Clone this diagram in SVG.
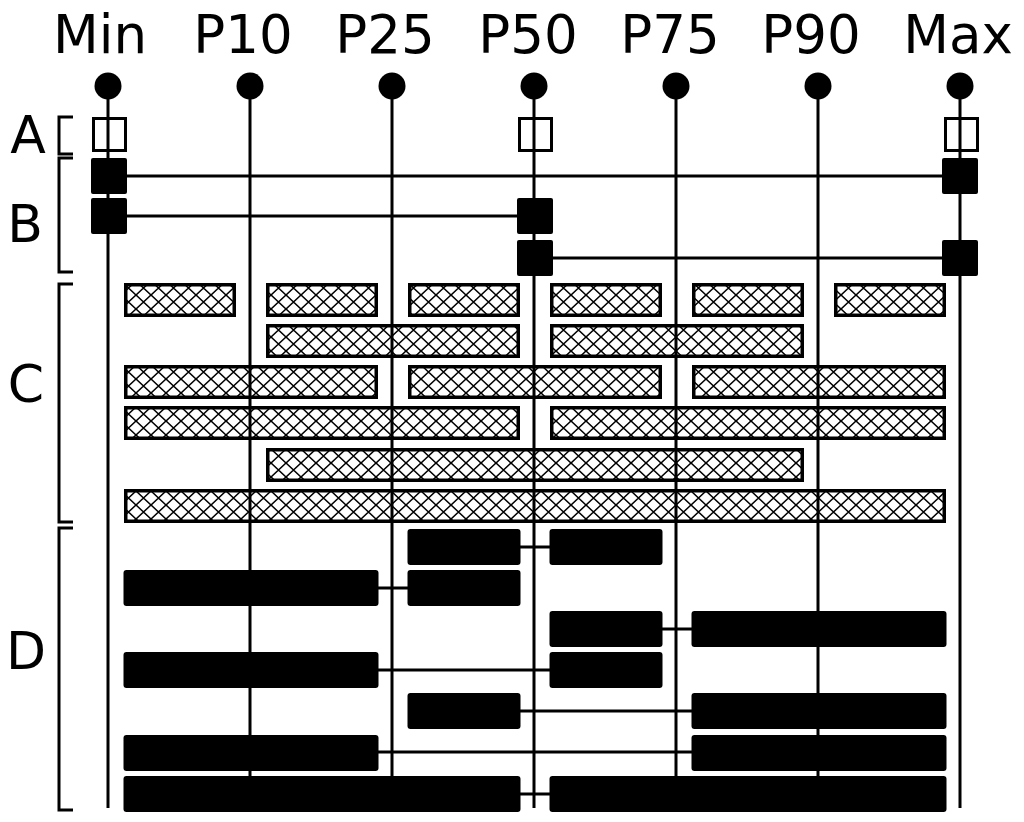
<svg xmlns="http://www.w3.org/2000/svg" width="1024" height="822" viewBox="0 0 1024 822">
<style>
  .lbl{font-family:"DejaVu Sans",sans-serif;font-size:53px;fill:#000;text-anchor:middle}
  .grp{font-family:"DejaVu Sans",sans-serif;font-size:52px;fill:#000;text-anchor:middle}
  .ln{stroke:#000;stroke-width:3;fill:none}
  .br{stroke:#000;stroke-width:3;fill:none}
  .open{fill:none;stroke:#000;stroke-width:3}
  .sq{fill:#000}
  .hb{fill:url(#hatch);stroke:#000;stroke-width:3.5}
  .sb{fill:#000}
</style>
<defs>
  <pattern id="hatch" patternUnits="userSpaceOnUse" x="1" y="1" width="15" height="14">
    <path d="M-1.5,-1.4 L16.5,15.4 M16.5,-1.4 L-1.5,15.4" stroke="#000" stroke-width="1.5"/>
  </pattern>
</defs>
<rect width="1024" height="822" fill="#fff"/>

<g id="headers">
  <text class="lbl" x="100" y="53">Min</text>
  <text class="lbl" x="243" y="53">P10</text>
  <text class="lbl" x="385" y="53">P25</text>
  <text class="lbl" x="528" y="53">P50</text>
  <text class="lbl" x="670" y="53">P75</text>
  <text class="lbl" x="811" y="53">P90</text>
  <text class="lbl" x="958" y="53">Max</text>
</g>

<g id="group-labels">
  <text class="grp" x="28" y="153">A</text>
  <text class="grp" x="25" y="242">B</text>
  <text class="grp" x="26" y="402">C</text>
  <text class="grp" x="26" y="669">D</text>
  <path class="br" d="M73,117 H59 V154 H73"/>
  <path class="br" d="M73,158 H59 V272 H73"/>
  <path class="br" d="M73,284 H59 V522 H73"/>
  <path class="br" d="M73,528 H59 V810 H73"/>
</g>

<g id="connectors">
  <line class="ln" x1="108" y1="86" x2="108" y2="808"/>
  <line class="ln" x1="250" y1="86" x2="250" y2="808"/>
  <line class="ln" x1="392" y1="86" x2="392" y2="808"/>
  <line class="ln" x1="534" y1="86" x2="534" y2="808"/>
  <line class="ln" x1="676" y1="86" x2="676" y2="808"/>
  <line class="ln" x1="818" y1="86" x2="818" y2="808"/>
  <line class="ln" x1="960" y1="86" x2="960" y2="808"/>
  <line class="ln" x1="108" y1="176" x2="960" y2="176"/>
  <line class="ln" x1="108" y1="216" x2="534" y2="216"/>
  <line class="ln" x1="534" y1="258" x2="960" y2="258"/>
  <line class="ln" x1="515" y1="547" x2="555" y2="547"/>
  <line class="ln" x1="373" y1="588" x2="413" y2="588"/>
  <line class="ln" x1="657" y1="629" x2="697" y2="629"/>
  <line class="ln" x1="373" y1="670" x2="555" y2="670"/>
  <line class="ln" x1="515" y1="711" x2="697" y2="711"/>
  <line class="ln" x1="373" y1="752" x2="697" y2="752"/>
  <line class="ln" x1="515" y1="794" x2="555" y2="794"/>
</g>

<g id="dots">
  <circle cx="108" cy="86" r="13.5"/>
  <circle cx="250" cy="86" r="13.5"/>
  <circle cx="392" cy="86" r="13.5"/>
  <circle cx="534" cy="86" r="13.5"/>
  <circle cx="676" cy="86" r="13.5"/>
  <circle cx="818" cy="86" r="13.5"/>
  <circle cx="960" cy="86" r="13.5"/>
</g>

<g id="A">
  <rect class="open" x="93.5" y="118.5" width="32" height="32"/>
  <rect class="open" x="519.5" y="118.5" width="32" height="32"/>
  <rect class="open" x="945.5" y="118.5" width="32" height="32"/>
</g>

<g id="B">
  <rect class="sq" x="91" y="158" width="36" height="36" rx="2"/>
  <rect class="sq" x="942" y="158" width="36" height="36" rx="2"/>
  <rect class="sq" x="91" y="198" width="36" height="36" rx="2"/>
  <rect class="sq" x="517" y="198" width="36" height="36" rx="2"/>
  <rect class="sq" x="517" y="240" width="36" height="36" rx="2"/>
  <rect class="sq" x="942" y="240" width="36" height="36" rx="2"/>
</g>

<g id="C">
  <rect class="hb" x="125.75" y="284.75" width="108.5" height="30.5"/>
  <rect class="hb" x="267.75" y="284.75" width="108.5" height="30.5"/>
  <rect class="hb" x="409.75" y="284.75" width="108.5" height="30.5"/>
  <rect class="hb" x="551.75" y="284.75" width="108.5" height="30.5"/>
  <rect class="hb" x="693.75" y="284.75" width="108.5" height="30.5"/>
  <rect class="hb" x="835.75" y="284.75" width="108.5" height="30.5"/>

  <rect class="hb" x="267.75" y="325.75" width="250.5" height="30.5"/>
  <rect class="hb" x="551.75" y="325.75" width="250.5" height="30.5"/>

  <rect class="hb" x="125.75" y="366.75" width="250.5" height="30.5"/>
  <rect class="hb" x="409.75" y="366.75" width="250.5" height="30.5"/>
  <rect class="hb" x="693.75" y="366.75" width="250.5" height="30.5"/>

  <rect class="hb" x="125.75" y="407.75" width="392.5" height="30.5"/>
  <rect class="hb" x="551.75" y="407.75" width="392.5" height="30.5"/>

  <rect class="hb" x="267.75" y="449.75" width="534.5" height="30.5"/>

  <rect class="hb" x="125.75" y="490.75" width="818.5" height="30.5"/>
</g>

<g id="D">
  <rect class="sb" x="407.5" y="529" width="113" height="36" rx="3"/>
  <rect class="sb" x="549.5" y="529" width="113" height="36" rx="3"/>

  <rect class="sb" x="123.5" y="570" width="255" height="36" rx="3"/>
  <rect class="sb" x="407.5" y="570" width="113" height="36" rx="3"/>

  <rect class="sb" x="549.5" y="611" width="113" height="36" rx="3"/>
  <rect class="sb" x="691.5" y="611" width="255" height="36" rx="3"/>

  <rect class="sb" x="123.5" y="652" width="255" height="36" rx="3"/>
  <rect class="sb" x="549.5" y="652" width="113" height="36" rx="3"/>

  <rect class="sb" x="407.5" y="693" width="113" height="36" rx="3"/>
  <rect class="sb" x="691.5" y="693" width="255" height="36" rx="3"/>

  <rect class="sb" x="123.5" y="735" width="255" height="36" rx="3"/>
  <rect class="sb" x="691.5" y="735" width="255" height="36" rx="3"/>

  <rect class="sb" x="123.5" y="776" width="397" height="36" rx="3"/>
  <rect class="sb" x="549.5" y="776" width="397" height="36" rx="3"/>
</g>
</svg>
